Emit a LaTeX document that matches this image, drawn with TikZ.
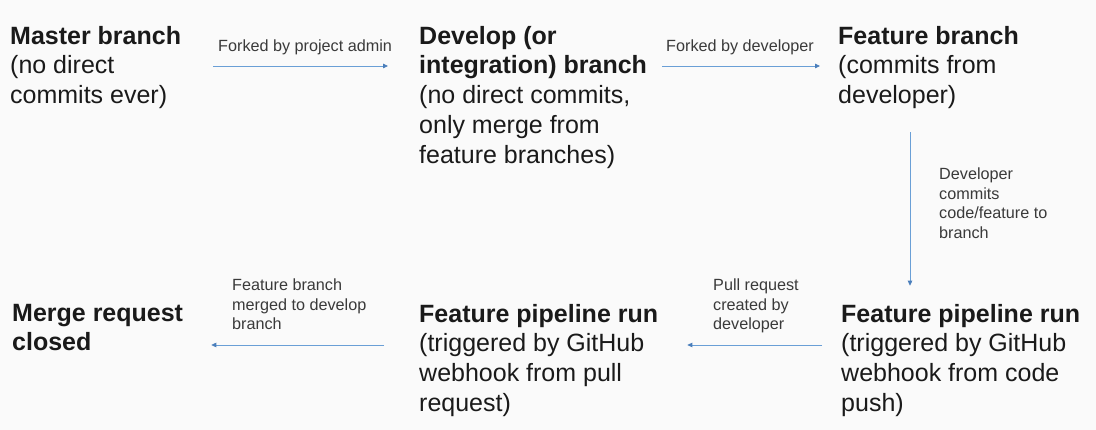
\documentclass[tikz,border=0pt]{standalone}
\usepackage{fontspec}
\setmainfont{Liberation Sans}
\usepackage{xcolor}
\usepackage{tikz}
\usetikzlibrary{arrows.meta}
\definecolor{bgcol}{HTML}{FAFAFA}
\definecolor{flowcol}{HTML}{6A9FD6}
\definecolor{tipcol}{HTML}{4A7EBB}
\definecolor{maintext}{HTML}{1A1A1A}
\definecolor{smalltext}{HTML}{3A3A3A}

\begin{document}
\begin{tikzpicture}[x=1pt,y=-1pt,
    stage/.style={anchor=north west,inner sep=0pt,align=left,text=maintext,
        font=\fontsize{25}{29.8}\selectfont},
    note/.style={anchor=north west,inner sep=0pt,align=left,text=smalltext,
        font=\fontsize{16.2}{19.5}\selectfont},
    flow/.style={draw=flowcol,line width=0.8pt,
        -{Triangle[length=5pt,width=4.5pt,color=tipcol]}}]
                \fill[bgcol] (0,0) rectangle (1096,430);
                \coordinate (toprow) at (0,66);
                \coordinate (lowrow) at (0,345);
                \coordinate (downcol) at (910,0);
                % top row
                \node[stage] (master) at (10,25.7) {\textbf{Master branch}\\(no direct\\commits ever)};
                \node[stage] (develop) at (419,25.7) {\textbf{Develop (or}\\\textbf{integration) branch}\\(no direct commits,\\only merge from\\feature branches)};
                \node[stage] (feature) at (838,25.7) {\textbf{Feature branch}\\(commits from\\developer)};
                % bottom row
                \node[stage] (merged) at (12,303.7) {\textbf{Merge request}\\\textbf{closed}};
                \node[stage] (pullrun) at (419,303.7) {\textbf{Feature pipeline run}\\(triggered by GitHub\\webhook from pull\\request)};
                \node[stage] (pushrun) at (841,303.7) {\textbf{Feature pipeline run}\\(triggered by GitHub\\webhook from code\\push)};
                % labels
                \node[note] (forkadmin) at (218,40) {Forked by project admin};
                \node[note] (forkdev) at (666,40) {Forked by developer};
                \node[note] (commitnote) at (939,168) {Developer\\commits\\code/feature to\\branch};
                \node[note] (pullnote) at (713,279) {Pull request\\created by\\developer};
                \node[note] (mergenote) at (232,279) {Feature branch\\merged to develop\\branch};
                % connectors
                \draw[flow,shorten <=32pt,shorten >=31pt] (master.east |- toprow) -- (develop.west |- toprow);
                \draw[flow,shorten <=15pt,shorten >=18pt] (develop.east |- toprow) -- (feature.west |- toprow);
                \draw[flow,shorten <=23pt,shorten >=18pt] (feature.south -| downcol) -- (pushrun.north -| downcol);
                \draw[flow,shorten <=19pt,shorten >=29pt] (pushrun.west |- lowrow) -- (pullrun.east |- lowrow);
                \draw[flow,shorten <=35pt,shorten >=28pt] (pullrun.west |- lowrow) -- (merged.east |- lowrow);
\end{tikzpicture}
\end{document}
